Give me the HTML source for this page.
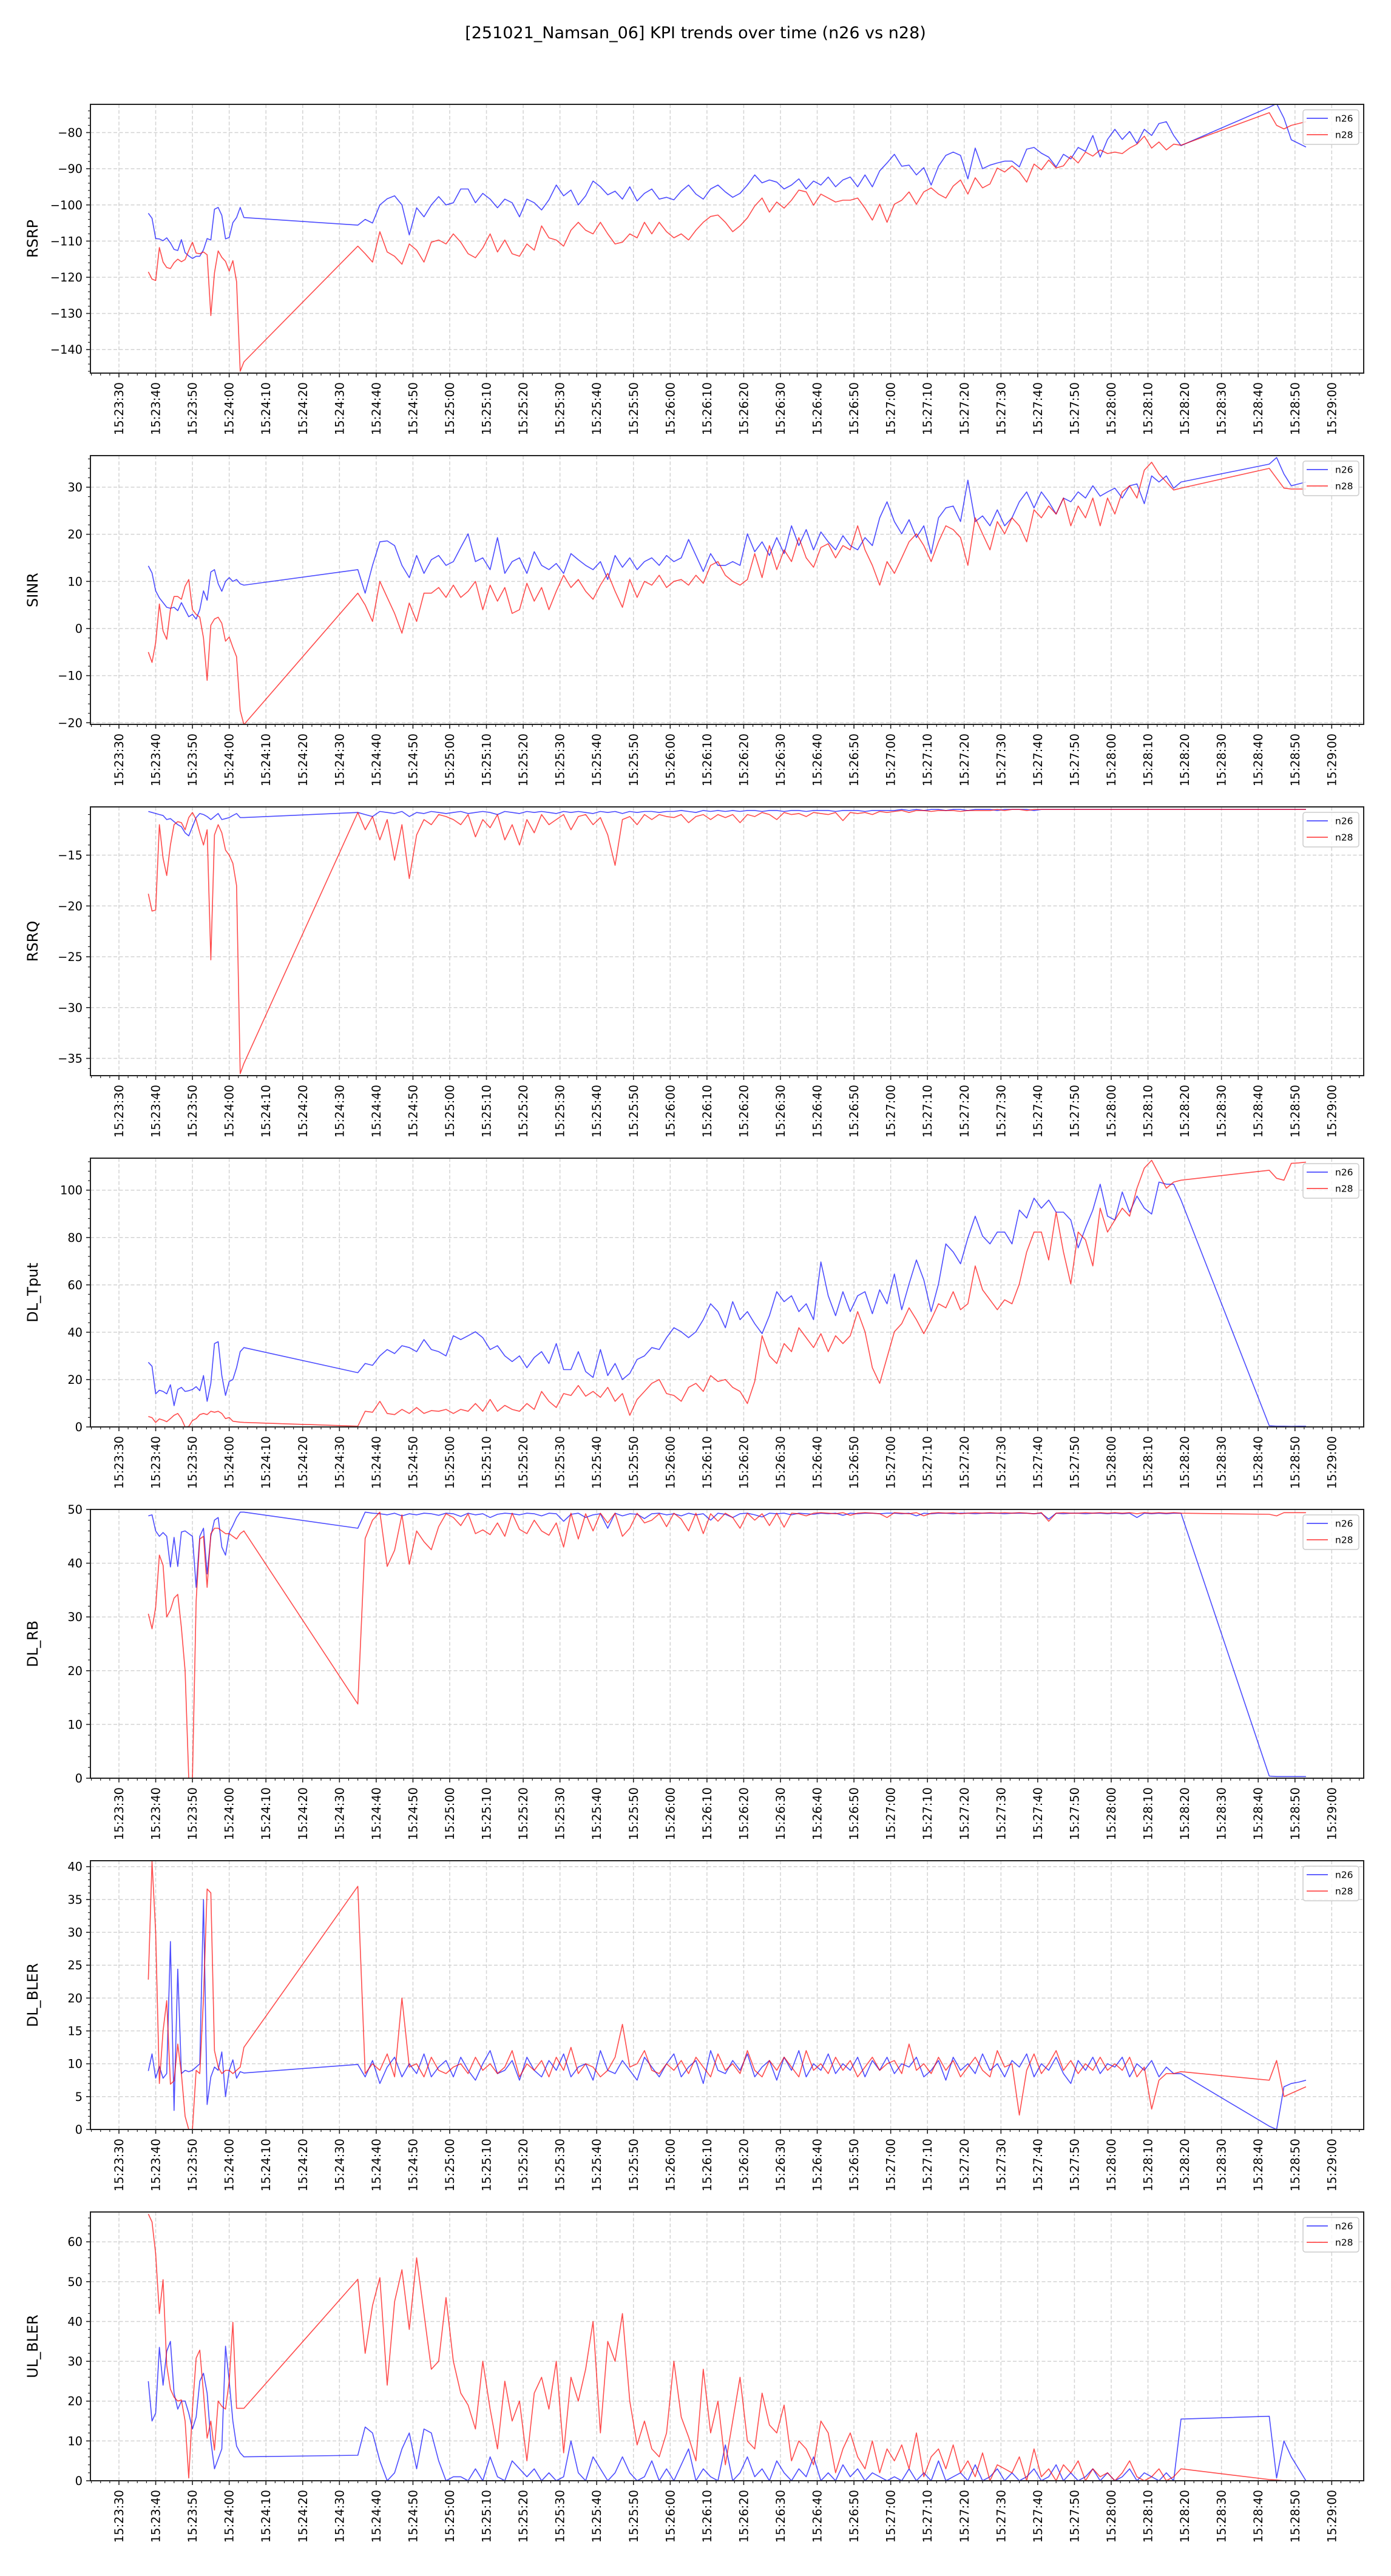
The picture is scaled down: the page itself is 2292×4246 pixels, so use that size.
<!DOCTYPE html>
<html><head><meta charset="utf-8"><title>KPI trends</title>
<style>
html,body{margin:0;padding:0;background:#fff;}
svg{display:block;font-family:"DejaVu Sans","Liberation Sans",sans-serif;}
</style></head>
<body>
<svg id="chart" width="2292" height="4246" viewBox="0 0 2292 4246" xmlns="http://www.w3.org/2000/svg">
<rect x="0" y="0" width="2292" height="4246" fill="#fff"/>
<text x="1146" y="63" text-anchor="middle" font-size="27" fill="#000">[251021_Namsan_06] KPI trends over time (n26 vs n28)</text>
</svg>
<script>
// time in seconds since 15:23:00
const times = [38,39,40,41,42,43,44,45,46,47,48,49,50,51,52,53,54,55,56,57,58,59,60,61,62,63,64,
95,97,99,101,103,105,107,109,111,113,115,117,119,121,123,125,127,129,131,133,135,137,139,141,143,145,147,149,151,153,155,157,159,161,163,165,167,169,171,173,175,177,179,181,183,185,187,189,191,193,195,197,199,201,203,205,207,209,211,213,215,217,219,221,223,225,227,229,231,233,235,237,239,241,243,245,247,249,251,253,255,257,259,261,263,265,267,269,271,273,275,277,279,281,283,285,287,289,291,293,295,297,299,301,303,305,307,309,311,313,315,317,319,
343,345,347,349,351,353];

const rsrpN26 = [-102.3,-103.7,-109.3,-109.4,-109.9,-109.1,-110.5,-112.3,-112.6,-109.6,-113.2,-114.1,-114.8,-114.2,-114.2,-112.4,-109.3,-109.7,-101.2,-100.7,-102.9,-109.4,-109,-104.9,-103.5,-100.7,-103.5,
-105.6,-104,-105,-100,-98.3,-97.5,-100,-108.3,-100.8,-103.3,-100,-97.7,-100,
-99.4,-95.6,-95.6,-99.4,-96.8,-98.4,-100.8,-98.4,-99.4,-103.3,-98.4,-99.4,-101.4,-98.6,-94.5,-97.5,-95.9,-100,-97.5,-93.4,-95,-97.2,-96.2,-98.4,-95,-98.9,-96.8,-95.6,-98.4,-97.9,
-98.6,-96.2,-94.5,-97,-98.4,-95.6,-94.5,-96.4,-97.9,-96.8,-94.5,-91.7,-93.9,-93.1,-93.7,-95.6,-94.5,-92.8,-95.6,-93.4,-94.5,-92.3,-95,-93.1,-92.3,-95,-91.7,-95,-90.6,-88.4,
-86,-89.3,-89,-91.7,-89.7,-94.5,-89.3,-86.3,-85.4,-86.3,-92.8,-84.3,-90,-89,-88.4,-87.9,-87.9,-89.5,-84.6,-84.1,-85.7,-86.8,-89.5,-86,-87.3,-84.1,-85.2,-80.8,-86.8,-81.9,
-79.1,-81.9,-79.7,-83,-79.1,-80.8,-77.5,-77,-80.8,-83.6,
-73,-72,-76,-82,-83,-84];
const rsrpN28 = [-118.5,-120.5,-120.9,-111.8,-115.8,-117.3,-117.6,-116.0,-115.0,-115.7,-115.1,-112.6,-110.3,-113.3,-113.5,-113.0,-113.8,-130.6,-118.8,-112.7,-114.5,-115.6,-118.3,-115.4,-121.2,-146,-143.4,
-111.4,-113.5,-115.8,-107.4,-113,-114.2,-116.4,-110.8,-112.5,-115.8,-110.3,-109.7,-110.8,
-108,-110.3,-113.5,-114.6,-111.9,-108,-113,-109.7,-113.5,-114.2,-110.8,-112.5,-105.8,-109.1,-109.7,-111.4,-107,-104.8,-107,-108,-104.8,-108,-110.8,-110.3,-108,-109.1,-104.8,-108,-104.8,-107.4,
-109.1,-108,-109.7,-107,-104.8,-103.2,-102.8,-104.8,-107.4,-105.8,-103.6,-100.3,-98.1,-102,-99.2,-100.9,-98.7,-95.9,-96.4,-100.1,-97,-98.1,-99.2,-98.7,-98.7,-98.1,-100.9,-104.2,-99.8,-104.8,
-99.8,-98.7,-96.4,-99.8,-96.4,-95.3,-97,-98.1,-94.8,-93.1,-97,-92.5,-95.3,-94.2,-89.8,-90.9,-89.2,-90.9,-93.7,-88.7,-90.3,-87.6,-89.8,-89.2,-86.5,-88.4,-85.4,-86.5,-84.8,-85.8,
-85.4,-85.8,-84.3,-83.2,-81,-84.3,-82.6,-84.8,-83.2,-83.5,
-74.5,-78,-79,-78,-77.5,-77];

const sinrN26 = [13.3,11.8,8,6.5,5.5,4.5,4.3,4.5,3.8,5.5,4,2.5,3,2,4,8,6,12,12.5,9.5,7.9,10,10.8,10,10.4,9.5,9.2,
12.5,7.5,13.4,18.4,18.6,17.6,13.4,10.8,15.5,11.7,14.6,15.5,13.4,
14.2,17.2,20.1,14.2,15,12.5,19.3,11.7,14.2,15,11.7,16.3,13.4,12.5,13.8,11.7,15.9,14.6,13.4,12.5,14.2,10.4,15.5,13,15,12.5,14.2,15,13.4,15.5,
14.2,15,18.9,15.5,12.1,15.9,13.4,13.4,14.2,13.4,20.1,16.3,18.4,15.5,19.3,15.9,21.8,17.6,21,16.7,20.5,18.4,16.7,19.7,17.6,16.7,19.3,17.6,23.5,26.9,
22.7,20.1,23.1,19.3,21.8,15.9,23.5,25.6,26,22.7,31.5,22.7,23.9,21.8,25.2,21.8,23.5,26.9,29,25.6,29,26.9,24.3,27.7,26.9,29,27.7,30.3,28.1,29,
29.8,27.7,30.3,30.7,26.5,32.4,31.1,32.4,29.8,31.1,
34.9,36.3,32.8,30.3,30.7,31.1];
const sinrN28 = [-5,-7.2,-3,5.2,-0.5,-2.3,4,6.8,6.8,6.2,9,10.4,4,3,2.4,-2,-11,0.7,2,2.4,1.1,-2.7,-1.8,-4,-6,-17.4,-20.4,
7.5,5,1.5,10,6.6,3.2,-1,5.4,1.5,7.5,7.5,8.7,6.6,
9.2,6.6,7.9,10,4,9.2,5.8,8.7,3.2,4,9.6,5.8,8.7,4,7.9,11.3,8.7,10.4,7.9,6.2,9.2,11.7,7.9,4.5,10.4,6.6,10,9.2,11.3,8.7,
10,10.4,9.2,11.3,9.6,13.4,14.2,11.3,10,9.2,10.4,15.9,10.8,17.6,12.5,16.7,14.2,19.3,15,13,17.2,18,15,17.6,16.7,21.8,16.7,13.4,9.2,14.2,
11.7,15,18.4,20.1,17.6,14.2,18.4,21.8,21,19.3,13.4,23.5,20.1,16.7,22.7,20.1,23.5,21.8,18.4,25.2,23.5,26,24.3,27.7,21.8,26,23.5,27.7,21.8,27.7,
24.3,29,30.3,27.7,33.6,35.3,32.8,31.1,29.4,29.8,
34,31.9,29.8,29.6,29.6,29.6];

const rsrqN26 = [-10.7,-10.8,-10.9,-11,-11.1,-11.5,-11.4,-11.7,-12,-12.2,-12.8,-13.1,-12.2,-11.3,-10.9,-11,-11.2,-11.5,-11.2,-10.9,-11.5,-11.4,-11.3,-11.1,-10.9,-11.3,-11.3,
-10.8,-11.0,-11.2,-10.7,-10.8,-10.9,-10.7,-11.2,-10.8,-10.9,-10.7,-10.8,-10.9,
-10.8,-10.7,-10.9,-10.8,-10.7,-10.8,-11.0,-10.7,-10.8,-10.9,-10.7,-10.8,-10.7,-10.8,-10.9,-10.7,-10.8,-10.7,-10.8,-10.9,-10.7,-10.8,-10.7,-10.9,-10.7,-10.8,-10.7,-10.7,-10.8,-10.7,
-10.7,-10.6,-10.7,-10.8,-10.6,-10.7,-10.6,-10.7,-10.6,-10.7,-10.6,-10.6,-10.7,-10.6,-10.6,-10.7,-10.6,-10.6,-10.7,-10.6,-10.6,-10.6,-10.7,-10.6,-10.6,-10.6,-10.7,-10.6,-10.6,-10.6,
-10.6,-10.5,-10.6,-10.5,-10.6,-10.5,-10.5,-10.6,-10.5,-10.5,-10.6,-10.5,-10.5,-10.5,-10.6,-10.5,-10.5,-10.5,-10.5,-10.6,-10.5,-10.5,-10.5,-10.5,-10.5,-10.5,-10.5,-10.5,-10.5,-10.5,
-10.5,-10.5,-10.5,-10.5,-10.5,-10.5,-10.5,-10.5,-10.5,-10.5,
-10.5,-10.5,-10.5,-10.5,-10.5,-10.5];
const rsrqN28 = [-18.8,-20.5,-20.4,-12,-15.3,-17,-14,-12,-11.7,-11.8,-12.5,-11.3,-10.8,-11.5,-12.8,-14,-12.5,-25.3,-13,-12,-12.8,-14.5,-15,-15.8,-18,-36.5,-35.5,
-10.8,-12.5,-11.2,-13.5,-11.5,-15.5,-12,-17.3,-13,-11.5,-12,-11,-11.2,
-11.5,-12,-11,-13.2,-11.5,-12.3,-11,-13.5,-12,-14,-11.5,-12.8,-11,-12,-11.5,-11,-12.5,-11.2,-11,-12,-11.3,-13,-16,-11.5,-11.2,-12,-11,-11.5,-11,-11.2,
-11.3,-11,-11.8,-11.2,-11,-11.5,-11,-11.3,-11,-11.8,-11,-11.2,-10.8,-11,-11.5,-10.8,-11,-10.9,-11.2,-10.8,-10.9,-11,-10.8,-11.6,-10.8,-10.9,-10.8,-11,-10.7,-10.8,
-10.7,-10.6,-10.8,-10.6,-10.6,-10.7,-10.6,-10.6,-10.6,-10.7,-10.6,-10.6,-10.6,-10.6,-10.5,-10.6,-10.5,-10.5,-10.6,-10.5,-10.5,-10.5,-10.5,-10.5,-10.5,-10.5,-10.5,-10.5,-10.5,-10.5,
-10.5,-10.5,-10.5,-10.5,-10.5,-10.5,-10.5,-10.5,-10.5,-10.5,
-10.5,-10.5,-10.5,-10.5,-10.5,-10.5];

const tputN26 = [27.3,25.6,14,15.5,15,14,17.8,9,15.8,16.7,15,15.3,15.8,17,15.3,21.7,10.8,18.4,35.2,36,21.7,13.3,19.2,20,25,31.8,33.5,
22.9,26.8,26,30,32.7,31,34.3,33.5,31.8,36.9,32.7,31.8,30,
38.5,36.9,38.5,40.2,37.7,32.7,34.3,30,27.6,30,25,29.3,31.8,26.8,35.2,24.2,24.2,31.8,23.4,20.9,32.7,21.7,26.8,20,22.6,28.5,30,33.5,32.7,37.7,
41.9,40.2,37.7,40.2,45.3,52,48.7,41.9,52.9,45.3,48.7,43.6,39.4,47,57.1,52.9,55.4,48.7,52,45.3,69.7,55.4,47,57.1,48.7,55.4,57.1,47.8,57.9,52,
64.6,49.5,60.4,70.5,62.1,48.7,60.4,77.3,73.9,68.9,79.8,89,80.6,77.3,82.3,82.3,77.3,91.6,88.2,96.6,92.4,95.8,90.7,90.7,87.4,75.6,84,91.6,102.5,89,
87.4,99.2,90.7,97.5,92.4,89.9,103.4,102.5,102.5,95.8,
0.5,0.3,0.3,0.2,0.3,0.3];
const tputN28 = [4.4,3.9,1.9,3.4,2.9,2.2,3.5,4.9,5.7,3.5,0,0.2,2.7,3.5,5.2,5.7,5.2,6.6,6.2,6.6,5.7,3.5,4,2.4,2.2,2,1.9,
0.3,6.6,6.2,10.8,5.7,5.2,7.4,5.7,8.2,5.7,6.9,6.6,7.4,
5.7,7.4,6.6,9.9,6.6,11.6,6.6,9.1,7.4,6.6,9.9,7.4,15,10.8,8.2,14.1,13.3,17.5,13,15,12.5,16.7,10.8,14.1,4.9,11.6,15,18.4,20,14.1,
13.3,10.8,16.7,18.4,15,21.7,19.2,20,16.7,15,9.9,19.2,38.5,30,26.8,35.2,31.8,41.9,37.7,33.5,39.4,31.8,38.5,35.2,38.5,48.7,40.2,25,18.4,29.3,
40.2,43.6,50.3,45.3,39.4,45.3,52,50.3,57.1,49.5,52,68,57.9,53.7,49.5,53.7,52,60.4,73.9,82.3,82.3,70.5,90.7,73.9,60.4,82.3,79,68,92.4,82.3,
87.4,92.4,89,100.8,109.3,112.6,106.7,100.8,103.4,104.2,
108.4,105,104.2,111.3,111.5,111.8];

const rbN26 = [48.8,49,46,45,45.7,45,39.3,44.8,39.4,45.8,46,45.5,45,35.5,45,46.5,38,45,48,48.5,43,41.5,45.7,47,48.5,49.5,49.5,
46.5,49.5,49.3,49.2,49,49.3,48.8,49.2,49,49.3,49.2,48.9,49.3,
49.2,48.7,49.3,49,49.2,48.5,49.1,49.3,49.2,49,49.3,49.2,48.8,49.3,49.2,47.8,49.1,49.3,48.5,49,49.2,46.5,49.3,48.8,49.2,49.1,48.3,49.2,49.3,49,
49.2,48.8,49.3,49,49.2,48,49.3,49.1,48.5,49.2,49.3,49,48.6,49.3,49.2,49.3,49,49.3,49.2,49.1,49.3,49.2,49.3,48.9,49.3,49.2,49.3,49.3,49.2,49.3,
49.3,49.2,49.3,48.8,49.3,49.2,49.3,49.3,49.2,49.3,49.3,49.2,49.3,49.3,49.3,49.2,49.3,49.3,49.3,49.2,49.3,48.2,49.3,49.2,49.3,49.3,49.2,49.3,49.3,49.2,
49.3,49.2,49.3,48.5,49.3,49.2,49.3,49.2,49.3,49.3,
0.4,0.3,0.3,0.3,0.3,0.3];
const rbN28 = [30.6,27.8,31.8,41.5,39.6,30,31.3,33.5,34.2,28,20,0,0,33,44.5,45,35.5,45.5,46.5,46.5,46,45.5,45.5,45,44.5,45.5,46,
13.8,44.6,48,49.5,39.4,42.4,49,39.8,46,44,42.5,46.8,49.2,
48.5,47,49.2,45.5,46.2,45.3,47.5,45,49.3,46.3,45.5,48,46,45.2,47.5,43,49.3,44.5,49.2,46,49.3,47.5,49.3,45,46.5,49.3,47.5,48,49.2,46.8,
49.3,48.2,46,49.3,45.5,49.2,47.8,49.3,48.5,46.5,49.3,48,49.2,47,49.3,46.7,49.3,49.2,48.8,49.3,49.4,49.3,49.2,49.4,48.9,49.3,49.4,49.3,49.2,48.5,
49.4,49.3,49.2,49.4,48.8,49.3,49.4,49.3,49.4,49.2,49.3,49.4,49.3,49.4,49.3,49.4,49.3,49.4,49.3,49.2,49.4,47.8,49.3,49.4,49.3,49.3,49.4,49.3,49.4,49.3,
49.4,49.3,49.4,49.2,49.4,49.3,49.4,49.3,49.4,49.3,
49.1,48.8,49.4,49.4,49.4,49.4];

const dlBlerN26 = [8.9,11.5,7.8,9.6,7.8,8.5,28.6,2.9,24.4,8.5,9,8.8,9,9.5,10,35,3.8,8,9.5,9,11.8,5,9,10.6,7.8,8.8,8.6,
9.9,8,10.5,7,9.5,11,8,10,8.5,11.5,8,9.5,10.5,
8,11,9,7.5,10,12,8.5,9,10.5,7.5,11,9,8,10.5,9,11.5,8,9.5,10,7.5,12,9,8.5,10.5,9,7.5,11,9.5,8,10,
11.5,8,9.5,10.5,7,12,9,8.5,10.5,9,11.5,8,9.5,10.5,7.5,11,9,12,8,10,9,11.5,8.5,10,9,11,8,10.5,9,11,
8.5,10,9.5,11,8,9,10.5,7.5,11,9,10,8.5,11.5,9,10,8,10.5,9.5,11.5,8,10,9,11,8.5,7,10.5,9,11,8.5,10,
9.5,11,8,10,9,10.5,8,9.5,8.5,8.5,
0.5,0,6.5,7,7.2,7.5];
const dlBlerN28 = [22.8,40.8,30,7,15,19.6,6.9,7.4,13,8.5,2,0,0,9,8.5,20,36.6,36,12,9.5,8.5,9,9,8.5,9,9.5,12.5,
37,8.5,10,9,11.5,8,20,9.5,10,8,11,9,8.5,
9.5,10,8.5,11,9,10,8.5,9.5,12,8,10,9,10.5,8,11,9,12.5,8.5,10,9.5,8,9,11,16,9.5,10,12,9,8.5,10,
9,10.5,8.5,11,9.5,8,11.5,9,10,8.5,12,9,8,10.5,9,11,9.5,8,12,9,10,8.5,11,9,10.5,8,9.5,11,9,10,
10.5,8.5,13,9,10,8.5,11,9,10.5,8,9.5,11,9,8,12,9.5,10,2.2,9,11.5,8.5,10,12,9,10.5,8.5,10,9,11,9,
10,9,11,8,9.5,3.1,7.5,8.5,8.5,8.8,
7.5,10.5,5,5.5,6,6.5];

const ulBlerN26 = [25,15,17,33.5,24,32.5,35,22,18,20,20,17,13,16,25,27,22,10,3,5.5,8,33.8,25,15,8.7,7,6,
6.4,13.5,12,5,0,2,8,12,3,13,12,5,0,
1,1,0,3,0,6,1,0,5,3,1,3,0,2,0,1,10,2,0,6,3,0,2,6,2,0,1,5,0,3,
0,4,8,0,3,1,0,9,0,2,6,1,3,0,5,2,0,3,1,6,0,2,0,4,1,3,0,2,1,0,
1,0,3,0,2,0,5,0,1,2,0,4,0,1,3,0,2,0,1,3,0,1,4,0,2,0,1,3,0,2,
0,1,3,0,2,1,0,2,0,15.5,
16.2,0.7,10,6,3,0];
const ulBlerN28 = [67,65,57,42,50.5,29,23,21,20,20.3,15,0.7,18,30.8,32.8,22,10.7,15,7.7,20,18.7,18,25,39.8,18.2,18.2,18.2,
50.6,32,44,51,24,45,53,38,56,42,28,30,46,
30,22,19,13,30,18,8,25,15,20,5,22,26,18,30,7,26,20,28,40,12,35,30,42,20,9,15,8,6,12,
30,16,11,5,28,12,20,4,15,26,10,8,22,14,12,19,5,10,8,4,15,12,2,8,12,6,3,10,2,8,
5,9,3,12,1,6,8,3,9,2,5,1,7,0,4,3,2,6,0,8,1,3,0,4,2,5,0,3,1,2,
0,2,5,1,0,1,3,0,1,3,
0.3,0.2,0,0,0,0];

const panelLabels = ["RSRP","SINR","RSRQ","DL_Tput","DL_RB","DL_BLER","UL_BLER"];
const panelYMin = [-146.5,-20.35,-36.7,0,0,0,0];
const panelYMax = [-72.2,36.7,-10.25,113.5,50,40.9,67.5];
const panelTickStart = [-140,-20,-35,0,0,0,0];
const panelTickStep = [10,10,5,20,10,5,10];
const panelMinorStep = [2,2,1,4,2,1,2];
const n26Series = [rsrpN26,sinrN26,rsrqN26,tputN26,rbN26,dlBlerN26,ulBlerN26];
const n28Series = [rsrpN28,sinrN28,rsrqN28,tputN28,rbN28,dlBlerN28,ulBlerN28];
const xTickSeconds = [30,40,50,60,70,80,90,100,110,120,130,140,150,160,170,180,190,200,210,220,230,240,250,260,270,280,290,300,310,320,330,340,350,360];

const NS = "http://www.w3.org/2000/svg";
const svg = document.getElementById("chart");
const AX_L = 149, AX_R = 2247, AX_H = 443, TOP0 = 172, PITCH = 579;
const X_MIN = 22.24, X_MAX = 368.7;
function xScale(t){ return AX_L + (t - X_MIN) / (X_MAX - X_MIN) * (AX_R - AX_L); }
function fmtTime(s){ const m = 23 + Math.floor(s/60); const ss = s % 60; return "15:" + m + ":" + (ss<10?"0":"") + ss; }
function fmtNum(v){ return (v<0 ? "\u2212" + Math.abs(v) : "" + v); }
function mk(tag, attrs, parent){ const e = document.createElementNS(NS, tag); for (const k in attrs) e.setAttribute(k, attrs[k]); parent.appendChild(e); return e; }

const defs = mk("defs", {}, svg);

for (let p = 0; p < 7; p++) {
  const top = TOP0 + PITCH * p, bot = top + AX_H;
  const ymin = panelYMin[p], ymax = panelYMax[p];
  const yScale = v => top + (ymax - v) / (ymax - ymin) * AX_H;
  const g = mk("g", {}, svg);
  
  

  const cp = mk("clipPath", {id: "clip" + p}, defs);
  mk("rect", {x: AX_L, y: top, width: AX_R - AX_L, height: AX_H}, cp);

  // grid
  const grid = mk("g", {stroke: "#d3d3d3", "stroke-width": 1.5, "stroke-dasharray": "6,3.5"}, g);
  
  
  xTickSeconds.forEach(s => { const x = xScale(s); mk("line", {x1: x, x2: x, y1: top, y2: bot}, grid); });
  for (let v = panelTickStart[p]; v <= ymax + 1e-9; v += panelTickStep[p]) {
    const y = yScale(v); mk("line", {x1: AX_L, x2: AX_R, y1: y, y2: y}, grid);
  }

  // series
  const lines = mk("g", {"clip-path": "url(#clip" + p + ")", fill: "none", "stroke-width": 1.6, "stroke-linejoin": "round"}, g);
  [[n26Series[p], "rgba(0,0,255,0.7)", "n26"], [n28Series[p], "rgba(255,0,0,0.7)", "n28"]].forEach(([arr, col, nm]) => {
    const n = Math.min(arr.length, times.length);
    let d = "";
    for (let i = 0; i < n; i++) d += (i ? "L" : "M") + xScale(times[i]).toFixed(1) + "," + yScale(arr[i]).toFixed(1);
    const path = mk("path", {d: d, stroke: col}, lines);
    
    
  });

  // spines
  const frame = mk("rect", {x: AX_L, y: top, width: AX_R - AX_L, height: AX_H, fill: "none", stroke: "#222", "stroke-width": 2}, g);
  
  

  // ticks
  const tk = mk("g", {stroke: "#222"}, g);
  for (let s = 22.5; s <= X_MAX; s += 2.5) {
    const x = xScale(s); const major = Math.abs(s/10 - Math.round(s/10)) < 1e-9;
    mk("line", {x1: x, x2: x, y1: bot, y2: bot + (major ? 7 : 4), "stroke-width": major ? 1.6 : 1.2}, tk);
  }
  const firstMinor = Math.ceil(ymin / panelMinorStep[p]) * panelMinorStep[p];
  for (let v = firstMinor; v <= ymax + 1e-9; v += panelMinorStep[p]) {
    const y = yScale(v); const major = Math.abs((v - panelTickStart[p]) / panelTickStep[p] - Math.round((v - panelTickStart[p]) / panelTickStep[p])) < 1e-9;
    mk("line", {x1: AX_L - (major ? 7 : 4), x2: AX_L, y1: y, y2: y, "stroke-width": major ? 1.6 : 1.2}, tk);
  }

  // y tick labels
  for (let v = panelTickStart[p]; v <= ymax + 1e-9; v += panelTickStep[p]) {
    const t = mk("text", {x: AX_L - 13, y: yScale(v) + 7, "text-anchor": "end", "font-size": 19.4, fill: "#000"}, g);
    t.textContent = fmtNum(v);
    
    
  }
  // x tick labels
  xTickSeconds.forEach(s => {
    const x = xScale(s) + 7;
    const t = mk("text", {x: x, y: bot + 15, "text-anchor": "end", "font-size": 19.4, fill: "#000", transform: "rotate(-90 " + x + " " + (bot + 15) + ")"}, g);
    t.textContent = fmtTime(s);
    
    
  });
  // y label
  const ly = top + AX_H / 2;
  const yl = mk("text", {x: 62, y: ly, "text-anchor": "middle", "font-size": 24, fill: "#000", transform: "rotate(-90 62 " + ly + ")"}, g);
  yl.textContent = panelLabels[p];
  
  

  // legend
  const lg = mk("g", {}, g);
  
  
  mk("rect", {x: 2147, y: top + 9, width: 92, height: 57, rx: 4, fill: "rgba(255,255,255,0.8)", stroke: "#cccccc", "stroke-width": 1.5}, lg);
  [["n26", "rgba(0,0,255,0.7)", 23], ["n28", "rgba(255,0,0,0.7)", 50]].forEach(([nm, col, dy]) => {
    const le = mk("g", {}, lg);
    
    
    mk("line", {x1: 2153, x2: 2188, y1: top + dy, y2: top + dy, stroke: col, "stroke-width": 1.8}, le);
    const t = mk("text", {x: 2200, y: top + dy + 5.5, "font-size": 15.5, fill: "#000"}, le);
    t.textContent = nm;
  });
}
</script>
</body></html>
